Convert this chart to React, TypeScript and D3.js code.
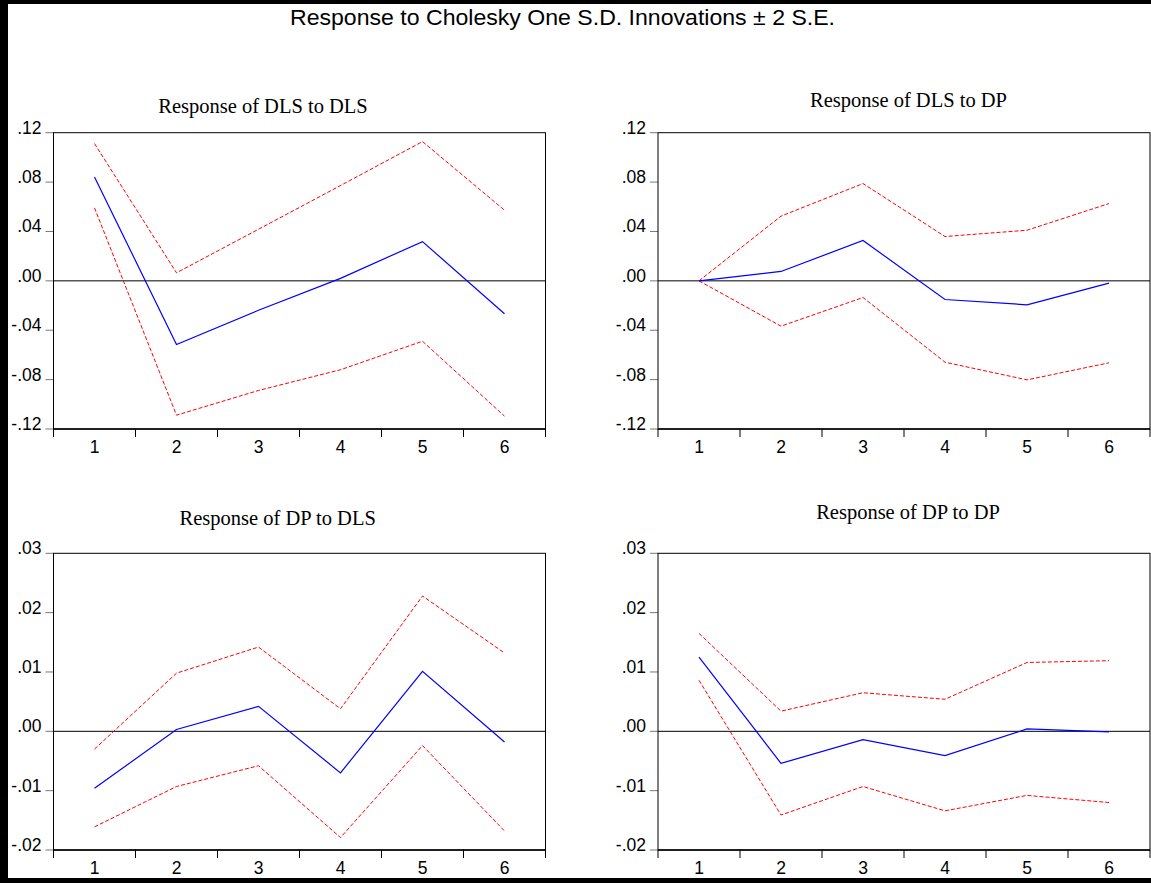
import React from "react";
import * as d3 from "d3";

const periods = [1, 2, 3, 4, 5, 6];

const mainTitle = "Response to Cholesky One S.D. Innovations \u00B1 2 S.E.";
const panelTitles = [
  "Response of DLS to DLS",
  "Response of DLS to DP",
  "Response of DP to DLS",
  "Response of DP to DP",
];

// Response of DLS to DLS
const dlsDlsResp = [0.0842, -0.0516, -0.0238, 0.002, 0.0318, -0.0267];
const dlsDlsUpper = [0.1112, 0.0065, 0.0418, 0.0772, 0.1128, 0.0572];
const dlsDlsLower = [0.0591, -0.1088, -0.0888, -0.072, -0.0489, -0.1096];

// Response of DLS to DP
const dlsDpResp = [0.0, 0.0076, 0.0327, -0.0151, -0.0194, -0.0019];
const dlsDpUpper = [0.0, 0.0524, 0.0788, 0.0359, 0.041, 0.0626];
const dlsDpLower = [0.0, -0.0367, -0.0135, -0.0659, -0.0802, -0.0664];

// Response of DP to DLS
const dpDlsResp = [-0.0096, 0.0003, 0.0042, -0.007, 0.0101, -0.0018];
const dpDlsUpper = [-0.003, 0.0098, 0.0142, 0.0038, 0.0228, 0.0132];
const dpDlsLower = [-0.0161, -0.0093, -0.0058, -0.0179, -0.0024, -0.0168];

// Response of DP to DP
const dpDpResp = [0.0125, -0.0054, -0.0014, -0.0041, 0.0004, -0.0001];
const dpDpUpper = [0.0165, 0.0034, 0.0065, 0.0054, 0.0116, 0.0119];
const dpDpLower = [0.0086, -0.0141, -0.0093, -0.0134, -0.0108, -0.012];

const topTicks = [0.12, 0.08, 0.04, 0.0, -0.04, -0.08, -0.12];
const topTickLabels = [".12", ".08", ".04", ".00", "-.04", "-.08", "-.12"];
const bottomTicks = [0.03, 0.02, 0.01, 0.0, -0.01, -0.02];
const bottomTickLabels = [".03", ".02", ".01", ".00", "-.01", "-.02"];

const W = 1151;
const H = 883;

type PanelProps = {
  x0: number;
  x1: number;
  y0: number;
  y1: number;
  domain: [number, number];
  ticks: number[];
  tickLabels: string[];
  title: string;
  titleX: number;
  titleY: number;
  resp: number[];
  upper: number[];
  lower: number[];
};

const sans = "'Liberation Sans', Arial, sans-serif";
const serif = "'Liberation Serif', 'Times New Roman', serif";

function Panel(p: PanelProps) {
  const x = d3.scaleBand<number>().domain(periods).range([p.x0, p.x1]).padding(0);
  const y = d3.scaleLinear().domain(p.domain).range([p.y1, p.y0]);
  const cx = (d: number) => (x(d) as number) + x.bandwidth() / 2;
  const line = d3
    .line<number>()
    .x((_, i) => cx(periods[i]))
    .y((v) => y(v));
  const bounds = [...periods.map((d) => x(d) as number), p.x1];
  return (
    <g>
      <text x={p.titleX} y={p.titleY} textAnchor="middle" fontFamily={serif} fontSize={20.5} fill="#000">
        {p.title}
      </text>
      {p.ticks.map((t, i) => (
        <g key={"yt" + i}>
          <line x1={p.x0 - 8} x2={p.x0} y1={y(t)} y2={y(t)} stroke="#777" strokeWidth={1} />
          <text x={p.x0 - 12} y={y(t) + 1} textAnchor="end" fontFamily={sans} fontSize={17.5} fill="#000">
            {p.tickLabels[i]}
          </text>
        </g>
      ))}
      {bounds.map((b, i) => (
        <line key={"xt" + i} x1={b} x2={b} y1={p.y1} y2={p.y1 + 8} stroke="#000" strokeWidth={1} />
      ))}
      {periods.map((d) => (
        <text key={"xl" + d} x={cx(d)} y={p.y1 + 24} textAnchor="middle" fontFamily={sans} fontSize={17.5} fill="#000">
          {d}
        </text>
      ))}
      <rect
        x={p.x0}
        y={p.y0}
        width={p.x1 - p.x0}
        height={p.y1 - p.y0}
        fill="none"
        stroke="#000"
        strokeWidth={1}
      />
      <line x1={p.x0} x2={p.x1} y1={p.y1} y2={p.y1} stroke="#000" strokeWidth={1.5} />
      <line x1={p.x0} x2={p.x1} y1={y(0)} y2={y(0)} stroke="#000" strokeWidth={1} />
      <path d={line(p.upper) || ""} fill="none" stroke="#ff0000" strokeWidth={1} strokeDasharray="4,2" />
      <path d={line(p.lower) || ""} fill="none" stroke="#ff0000" strokeWidth={1} strokeDasharray="4,2" />
      <path d={line(p.resp) || ""} fill="none" stroke="#0000ff" strokeWidth={1.2} />
    </g>
  );
}

export default function App() {
  const leftX: [number, number] = [53.5, 545.5];
  const rightX: [number, number] = [658, 1150];
  const topY: [number, number] = [132.7, 429];
  const botY: [number, number] = [553.3, 850];
  return (
    <svg
      width={W}
      height={H}
      viewBox={`0 0 ${W} ${H}`}
      style={{ position: "absolute", left: 0, top: 0, background: "#fff" }}
    >
      <rect x={0} y={0} width={W} height={H} fill="#fff" />
      <rect x={0} y={0} width={8} height={H} fill="#000" />
      <rect x={0} y={0} width={W} height={4} fill="#000" />
      <rect x={0} y={878} width={W} height={5} fill="#000" />
      <text
        x={562.5}
        y={25}
        textAnchor="middle"
        fontFamily={sans}
        fontSize={21.5}
        textLength={545}
        lengthAdjust="spacingAndGlyphs"
        fill="#000"
      >
        {mainTitle}
      </text>
      <Panel
        x0={leftX[0]} x1={leftX[1]} y0={topY[0]} y1={topY[1]}
        domain={[-0.12, 0.12]} ticks={topTicks} tickLabels={topTickLabels}
        title={panelTitles[0]} titleX={263} titleY={112.5}
        resp={dlsDlsResp} upper={dlsDlsUpper} lower={dlsDlsLower}
      />
      <Panel
        x0={rightX[0]} x1={rightX[1]} y0={topY[0]} y1={topY[1]}
        domain={[-0.12, 0.12]} ticks={topTicks} tickLabels={topTickLabels}
        title={panelTitles[1]} titleX={908.5} titleY={107}
        resp={dlsDpResp} upper={dlsDpUpper} lower={dlsDpLower}
      />
      <Panel
        x0={leftX[0]} x1={leftX[1]} y0={botY[0]} y1={botY[1]}
        domain={[-0.02, 0.03]} ticks={bottomTicks} tickLabels={bottomTickLabels}
        title={panelTitles[2]} titleX={277.7} titleY={525}
        resp={dpDlsResp} upper={dpDlsUpper} lower={dpDlsLower}
      />
      <Panel
        x0={rightX[0]} x1={rightX[1]} y0={botY[0]} y1={botY[1]}
        domain={[-0.02, 0.03]} ticks={bottomTicks} tickLabels={bottomTickLabels}
        title={panelTitles[3]} titleX={908} titleY={519.3}
        resp={dpDpResp} upper={dpDpUpper} lower={dpDpLower}
      />
    </svg>
  );
}
